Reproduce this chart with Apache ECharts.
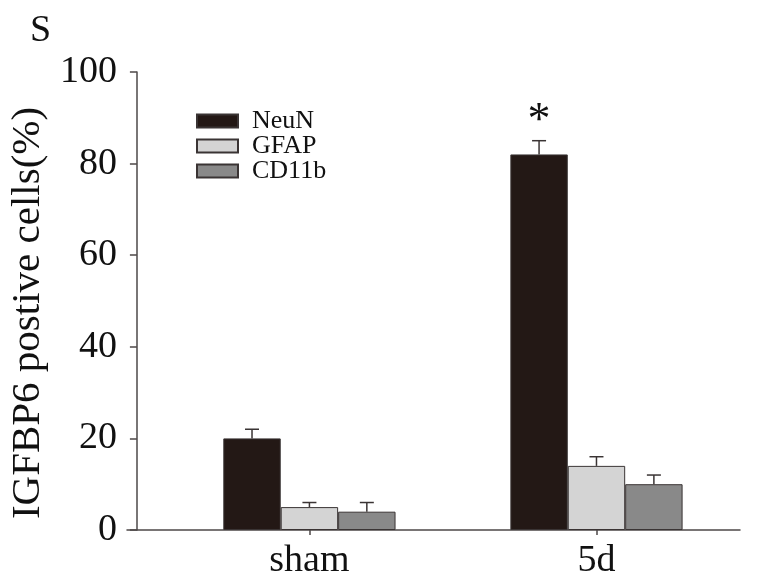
<!DOCTYPE html>
<html>
<head>
<meta charset="utf-8">
<script src="https://cdn.jsdelivr.net/npm/echarts@6/dist/echarts.min.js"></script>
<style>
  html, body { margin: 0; padding: 0; background: #fff; }
  #chart { width: 773px; height: 585px; }
</style>
</head>
<body>
<div id="chart"></div>
<script>
// data
const categories = ['sham', '5d'];
const neun = [20, 82];
const neunErr = [2, 3];
const gfap = [5, 14];
const gfapErr = [1, 2];
const cd11b = [4, 10];
const cd11bErr = [2, 2];
const neunMark = ['', '*'];
const yTicks = [0, 20, 40, 60, 80, 100];

const serif = '"Liberation Serif", "DejaVu Serif", serif';
const axisColor = '#4d4848';
const barBorder = '#3a3434';

const chart = echarts.init(document.getElementById('chart'));

// error bar (upper half only) for series k of 3
const errSeries = (k, vals, errs, marks) => ({
  type: 'custom',
  xAxisIndex: 0,
  yAxisIndex: 0,
  silent: true,
  z: 5,
  data: vals.map((v, i) => [i, v, v + errs[i], marks ? marks[i] : '']),
  renderItem: (params, api) => {
    const band = api.size([1, 0])[0];
    const off = (k - 1) * band * 0.2;
    const lo = api.coord([api.value(0), api.value(1)]);
    const hi = api.coord([api.value(0), api.value(2)]);
    const x = lo[0] + off;
    const cap = 7;
    const style = { stroke: '#3a3434', lineWidth: 1.5 };
    const children = [
      { type: 'line', shape: { x1: x, y1: lo[1], x2: x, y2: hi[1] }, style },
      { type: 'line', shape: { x1: x - cap, y1: hi[1], x2: x + cap, y2: hi[1] }, style }
    ];
    const mark = api.value(3);
    if (mark) {
      children.push({
        type: 'text',
        style: {
          text: mark, x: x, y: hi[1] + 4,
          align: 'center', verticalAlign: 'bottom',
          font: '46px ' + serif, fill: '#111'
        }
      });
    }
    return { type: 'group', children };
  }
});

const barSeries = (name, vals, color) => ({
  name,
  type: 'bar',
  xAxisIndex: 0,
  yAxisIndex: 0,
  data: vals,
  barWidth: '20%',
  barGap: '0%',
  itemStyle: { color, borderColor: barBorder, borderWidth: 1 }
});

const option = {
  animation: false,
  backgroundColor: '#fff',
  title: {
    text: 'S',
    left: 25,
    top: 7,
    textStyle: { fontFamily: serif, fontSize: 38, fontWeight: 'normal', color: '#111' }
  },
  legend: {
    orient: 'vertical',
    left: 191,
    top: 103,
    itemWidth: 41,
    itemHeight: 13,
    itemGap: -1,
    icon: 'rect',
    data: ['NeuN', 'GFAP', 'CD11b'],
    textStyle: {
      fontFamily: serif, fontSize: 26, color: '#111',
      lineHeight: 20, padding: [0, 0, 0, 9]
    }
  },
  grid: [
    { left: 162, right: 33, top: 72, bottom: 55 },
    { left: 127, right: 33, top: 72, bottom: 55 }
  ],
  xAxis: [
    {
      type: 'category',
      gridIndex: 0,
      data: categories,
      axisLine: { show: false },
      axisTick: { show: true, alignWithLabel: true, length: 5, lineStyle: { color: axisColor, width: 1.5 } },
      axisLabel: { fontFamily: serif, fontSize: 38, color: '#111', margin: 12 }
    },
    {
      type: 'value',
      gridIndex: 1,
      min: 0,
      max: 1,
      axisLine: { show: true, lineStyle: { color: axisColor, width: 1.5 } },
      axisTick: { show: false },
      axisLabel: { show: false },
      splitLine: { show: false }
    }
  ],
  yAxis: [
    {
      type: 'value',
      gridIndex: 0,
      min: yTicks[0],
      max: yTicks[yTicks.length - 1],
      interval: 20,
      offset: 29,
      name: 'IGFBP6 postive cells(%)',
      nameLocation: 'middle',
      nameGap: 80,
      nameTextStyle: { fontFamily: serif, fontSize: 41, color: '#111', padding: [0, 24, 0, 0] },
      axisLine: { show: true, lineStyle: { color: axisColor, width: 1.5 } },
      axisTick: { show: true, length: 7, lineStyle: { color: axisColor, width: 1.5 } },
      axisLabel: { fontFamily: serif, fontSize: 38, color: '#111', margin: 20 },
      splitLine: { show: false }
    },
    {
      type: 'value',
      gridIndex: 1,
      show: false
    }
  ],
  series: [
    barSeries('NeuN', neun, '#231815'),
    barSeries('GFAP', gfap, '#d4d4d4'),
    barSeries('CD11b', cd11b, '#898989'),
    errSeries(0, neun, neunErr, neunMark),
    errSeries(1, gfap, gfapErr),
    errSeries(2, cd11b, cd11bErr)
  ]
};

chart.setOption(option);
</script>
</body>
</html>
